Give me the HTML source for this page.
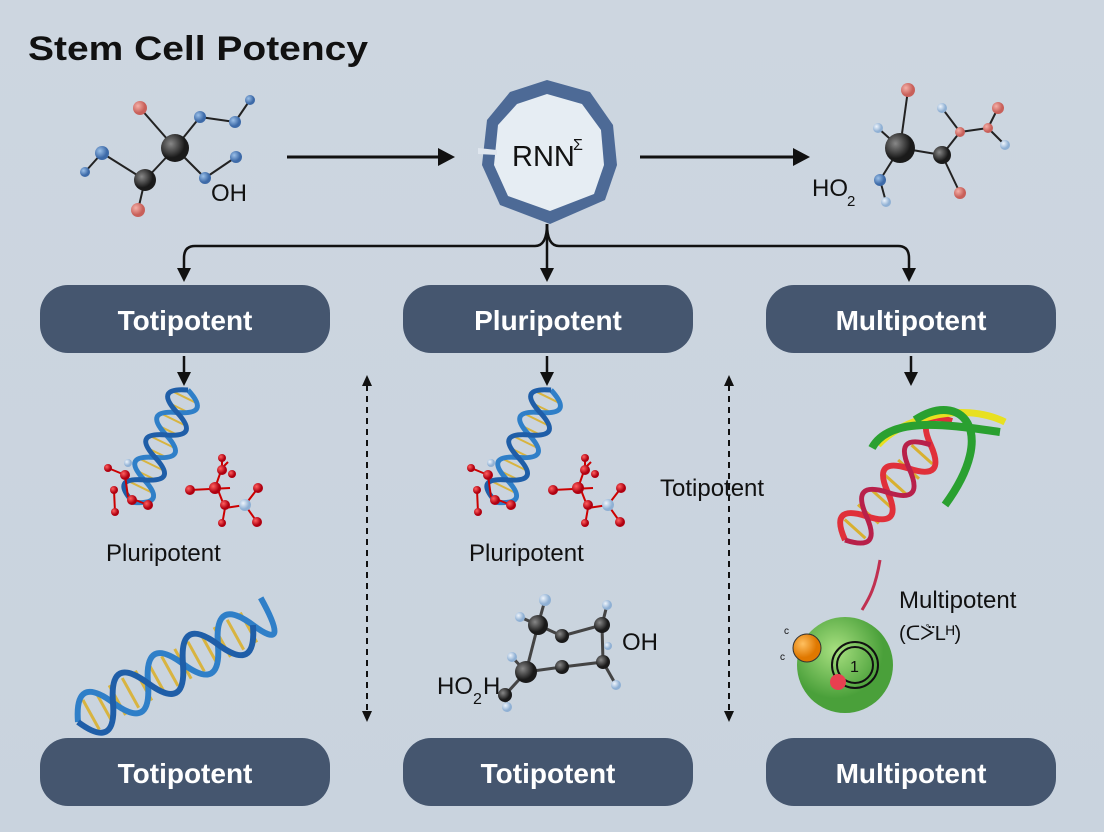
<!DOCTYPE html>
<html><head><meta charset="utf-8"><style>
html,body{margin:0;padding:0;width:1104px;height:832px;overflow:hidden}
body{background:linear-gradient(180deg,#cdd6e0 0%,#c9d3de 100%);font-family:"Liberation Sans",sans-serif}
svg{display:block}
</style></head><body>
<svg width="1104" height="832" viewBox="0 0 1104 832" xmlns="http://www.w3.org/2000/svg">
<defs>
<radialGradient id="dk" cx="35%" cy="35%"><stop offset="0" stop-color="#888"/><stop offset="1" stop-color="#1a1a1a"/></radialGradient>
<radialGradient id="bl" cx="35%" cy="35%"><stop offset="0" stop-color="#9bc0e8"/><stop offset="1" stop-color="#3d6aa8"/></radialGradient>
<radialGradient id="pk" cx="35%" cy="35%"><stop offset="0" stop-color="#f4b0a8"/><stop offset="1" stop-color="#c8605a"/></radialGradient>
<radialGradient id="lb" cx="35%" cy="35%"><stop offset="0" stop-color="#eef4fb"/><stop offset="1" stop-color="#8fb0d4"/></radialGradient>
<radialGradient id="rd" cx="35%" cy="35%"><stop offset="0" stop-color="#ff6060"/><stop offset="1" stop-color="#b00010"/></radialGradient>
<radialGradient id="gr" cx="40%" cy="35%"><stop offset="0" stop-color="#a8e080"/><stop offset="1" stop-color="#4aa03a"/></radialGradient>
<radialGradient id="or" cx="35%" cy="35%"><stop offset="0" stop-color="#ffc060"/><stop offset="1" stop-color="#e07800"/></radialGradient>
</defs>
<text x="28" y="60" font-size="34" font-weight="bold" fill="#111" font-family="Liberation Sans, sans-serif" textLength="340" lengthAdjust="spacingAndGlyphs">Stem Cell Potency</text>

<!-- left molecule -->
<g stroke="#222" stroke-width="2">
<line x1="175" y1="148" x2="140" y2="108"/><line x1="175" y1="148" x2="200" y2="117"/><line x1="175" y1="148" x2="145" y2="180"/>
<line x1="175" y1="148" x2="205" y2="178"/><line x1="145" y1="180" x2="102" y2="153"/><line x1="145" y1="180" x2="138" y2="210"/>
<line x1="102" y1="153" x2="85" y2="172"/><line x1="200" y1="117" x2="235" y2="122"/><line x1="235" y1="122" x2="250" y2="100"/>
<line x1="205" y1="178" x2="236" y2="157"/>
</g>
<circle cx="140" cy="108" r="7" fill="url(#pk)"/><circle cx="200" cy="117" r="6" fill="url(#bl)"/><circle cx="235" cy="122" r="6" fill="url(#bl)"/><circle cx="250" cy="100" r="5" fill="url(#bl)"/>
<circle cx="175" cy="148" r="14" fill="url(#dk)"/><circle cx="102" cy="153" r="7" fill="url(#bl)"/><circle cx="85" cy="172" r="5" fill="url(#bl)"/>
<circle cx="145" cy="180" r="11" fill="url(#dk)"/><circle cx="138" cy="210" r="7" fill="url(#pk)"/><circle cx="205" cy="178" r="6" fill="url(#bl)"/><circle cx="236" cy="157" r="6" fill="url(#bl)"/>
<text x="211" y="201" font-size="24" fill="#111">OH</text>

<line x1="287" y1="157" x2="440" y2="157" stroke="#111" stroke-width="3"/>
<path d="M438,148 L455,157 L438,166Z" fill="#111"/>
<line x1="640" y1="157" x2="795" y2="157" stroke="#111" stroke-width="3"/>
<path d="M793,148 L810,157 L793,166Z" fill="#111"/>

<!-- RNN ring -->
<path d="M547,80 L590,92 L613,125 L617,165 L605,200 L550,224 L500,205 L482,165 L487,120 L510,92 Z" fill="#4d6a96"/>
<path d="M547,94 L582,104 L601,130 L604,165 L594,194 L550,211 L508,196 L494,165 L498,125 L517,104 Z" fill="#e6edf3"/>
<path d="M478,148 L497,150 L497,155 L478,154Z" fill="#dfe6ee"/>
<text x="512" y="166" font-size="29" fill="#111">RNN</text><text x="573" y="150" font-size="16" fill="#111">&#x01A9;</text>

<!-- branches -->
<g fill="none" stroke="#111" stroke-width="2.5">
<path d="M547,224 Q547,246 535,246 L195,246 Q184,246 184,258 L184,270"/>
<path d="M547,224 Q547,246 559,246 L898,246 Q909,246 909,258 L909,270"/>
<line x1="547" y1="224" x2="547" y2="272"/>
</g>
<path d="M177,268 L191,268 L184,282Z M540,268 L554,268 L547,282Z M902,268 L916,268 L909,282Z" fill="#111"/>

<!-- right molecule -->
<g stroke="#222" stroke-width="2">
<line x1="900" y1="148" x2="908" y2="90"/><line x1="900" y1="148" x2="878" y2="128"/><line x1="900" y1="148" x2="880" y2="180"/>
<line x1="900" y1="148" x2="942" y2="155"/><line x1="942" y1="155" x2="960" y2="132"/><line x1="960" y1="132" x2="942" y2="108"/>
<line x1="960" y1="132" x2="988" y2="128"/><line x1="988" y1="128" x2="998" y2="108"/><line x1="988" y1="128" x2="1005" y2="145"/>
<line x1="942" y1="155" x2="960" y2="193"/><line x1="880" y1="180" x2="886" y2="202"/>
</g>
<circle cx="908" cy="90" r="7" fill="url(#pk)"/><circle cx="878" cy="128" r="5" fill="url(#lb)"/><circle cx="942" cy="108" r="5" fill="url(#lb)"/>
<circle cx="998" cy="108" r="6" fill="url(#pk)"/><circle cx="1005" cy="145" r="5" fill="url(#lb)"/><circle cx="960" cy="132" r="5" fill="url(#pk)"/><circle cx="988" cy="128" r="5" fill="url(#pk)"/>
<circle cx="900" cy="148" r="15" fill="url(#dk)"/><circle cx="942" cy="155" r="9" fill="url(#dk)"/><circle cx="880" cy="180" r="6" fill="url(#bl)"/><circle cx="886" cy="202" r="5" fill="url(#lb)"/><circle cx="960" cy="193" r="6" fill="url(#pk)"/>
<text x="812" y="196" font-size="24" fill="#111">HO</text><text x="847" y="206" font-size="15" fill="#111">2</text>

<!-- boxes -->
<g fill="#45566f">
<rect x="40" y="285" width="290" height="68" rx="28"/><rect x="403" y="285" width="290" height="68" rx="28"/><rect x="766" y="285" width="290" height="68" rx="28"/>
<rect x="40" y="738" width="290" height="68" rx="28"/><rect x="403" y="738" width="290" height="68" rx="28"/><rect x="766" y="738" width="290" height="68" rx="28"/>
</g>
<g fill="#fff" font-size="28" font-weight="bold" text-anchor="middle">
<text x="185" y="330">Totipotent</text><text x="548" y="330">Pluripotent</text><text x="911" y="330">Multipotent</text>
<text x="185" y="783">Totipotent</text><text x="548" y="783">Totipotent</text><text x="911" y="783">Multipotent</text>
</g>

<!-- down arrows -->
<g stroke="#111" stroke-width="2.5"><line x1="184" y1="356" x2="184" y2="374"/><line x1="547" y1="356" x2="547" y2="374"/><line x1="911" y1="356" x2="911" y2="374"/></g>
<path d="M177,372 L191,372 L184,386Z M540,372 L554,372 L547,386Z M904,372 L918,372 L911,386Z" fill="#111"/>

<!-- dashed -->
<g stroke="#111" stroke-width="2" stroke-dasharray="6,5"><line x1="367" y1="385" x2="367" y2="712"/><line x1="729" y1="385" x2="729" y2="712"/></g>
<path d="M362,386 L367,375 L372,386Z M362,711 L367,722 L372,711Z M724,386 L729,375 L734,386Z M724,711 L729,722 L734,711Z" fill="#111"/>

<!-- vertical helices -->
<g id="h1" transform="translate(188,390) rotate(116)">
<g stroke="#d8b440" stroke-width="2"><line x1="8" y1="-12" x2="8" y2="12"/><line x1="20" y1="-12" x2="20" y2="12"/><line x1="33" y1="-12" x2="33" y2="12"/><line x1="45" y1="-12" x2="45" y2="12"/><line x1="58" y1="-12" x2="58" y2="12"/><line x1="70" y1="-12" x2="70" y2="12"/><line x1="83" y1="-12" x2="83" y2="12"/><line x1="95" y1="-12" x2="95" y2="12"/><line x1="108" y1="-12" x2="108" y2="12"/></g>
<path d="M0,0 q12.5,-32 25,0 t25,0 t25,0 t25,0 t25,0" fill="none" stroke="#2f7fc8" stroke-width="5"/>
<path d="M0,0 q12.5,32 25,0 t25,0 t25,0 t25,0 t25,0" fill="none" stroke="#1f5ea8" stroke-width="5"/>
</g>
<g transform="translate(363,0)"><use href="#h1"/></g>

<!-- red molecules -->
<g id="rm">
<g stroke="#c00" stroke-width="2">
<line x1="108" y1="468" x2="125" y2="475"/><line x1="125" y1="475" x2="128" y2="497"/><line x1="114" y1="490" x2="115" y2="512"/><line x1="128" y1="497" x2="148" y2="505"/>
<line x1="190" y1="490" x2="230" y2="488"/><line x1="215" y1="488" x2="222" y2="468"/><line x1="222" y1="468" x2="228" y2="462"/><line x1="222" y1="468" x2="222" y2="458"/>
<line x1="218" y1="490" x2="225" y2="508"/><line x1="225" y1="508" x2="245" y2="505"/><line x1="245" y1="505" x2="258" y2="488"/><line x1="245" y1="505" x2="257" y2="522"/><line x1="225" y1="508" x2="222" y2="525"/>
</g>
<circle cx="108" cy="468" r="4" fill="url(#rd)"/><circle cx="125" cy="475" r="5" fill="url(#rd)"/><circle cx="128" cy="463" r="4" fill="url(#lb)"/><circle cx="114" cy="490" r="4" fill="url(#rd)"/><circle cx="115" cy="512" r="4" fill="url(#rd)"/>
<circle cx="132" cy="500" r="5" fill="url(#rd)"/><circle cx="148" cy="505" r="5" fill="url(#rd)"/>
<circle cx="190" cy="490" r="5" fill="url(#rd)"/><circle cx="215" cy="488" r="6" fill="url(#rd)"/><circle cx="222" cy="470" r="5" fill="url(#rd)"/><circle cx="222" cy="458" r="4" fill="url(#rd)"/><circle cx="232" cy="474" r="4" fill="url(#rd)"/>
<circle cx="225" cy="505" r="5" fill="url(#rd)"/><circle cx="245" cy="505" r="6" fill="url(#lb)"/><circle cx="258" cy="488" r="5" fill="url(#rd)"/><circle cx="257" cy="522" r="5" fill="url(#rd)"/><circle cx="222" cy="523" r="4" fill="url(#rd)"/>
</g>
<g transform="translate(363,0)"><use href="#rm"/></g>

<g font-size="24" fill="#111">
<text x="106" y="561">Pluripotent</text><text x="469" y="561">Pluripotent</text>
<text x="660" y="496">Totipotent</text>
<text x="899" y="608">Multipotent</text><text x="899" y="640" font-size="20">(ᑕᢴ̈Lᴴ)</text>
<text x="437" y="694">HO</text><text x="473" y="704" font-size="16">2</text><text x="483" y="694">H</text>
<text x="622" y="650">OH</text>
</g>

<!-- horizontal helix -->
<g transform="translate(78,722) rotate(-29)">
<g stroke="#d8b440" stroke-width="3"><line x1="15" y1="-17" x2="15" y2="17"/><line x1="30" y1="-17" x2="30" y2="17"/><line x1="45" y1="-17" x2="45" y2="17"/><line x1="60" y1="-17" x2="60" y2="17"/><line x1="75" y1="-17" x2="75" y2="17"/><line x1="90" y1="-17" x2="90" y2="17"/><line x1="105" y1="-17" x2="105" y2="17"/><line x1="120" y1="-17" x2="120" y2="17"/><line x1="135" y1="-17" x2="135" y2="17"/><line x1="150" y1="-17" x2="150" y2="17"/><line x1="165" y1="-17" x2="165" y2="17"/><line x1="180" y1="-17" x2="180" y2="17"/><line x1="195" y1="-17" x2="195" y2="17"/></g>
<path d="M0,0 q20,-44 40,0 t40,0 t40,0 t40,0 t40,0 t20,-20" fill="none" stroke="#2f7fc8" stroke-width="6"/>
<path d="M0,0 q20,44 40,0 t40,0 t40,0 t40,0 t40,0" fill="none" stroke="#1f5ea8" stroke-width="6"/>
</g>

<!-- hexagon molecule -->
<g stroke="#444" stroke-width="3" fill="none">
<path d="M538,625 L562,636 L602,625 L603,662 L562,667 L526,672 Z"/>
<line x1="526" y1="672" x2="505" y2="695"/><line x1="538" y1="625" x2="545" y2="600"/><line x1="538" y1="625" x2="520" y2="617"/>
<line x1="602" y1="625" x2="607" y2="605"/><line x1="603" y1="662" x2="616" y2="685"/><line x1="526" y1="672" x2="512" y2="657"/><line x1="505" y1="695" x2="507" y2="707"/>
</g>
<circle cx="545" cy="600" r="6" fill="url(#lb)"/><circle cx="520" cy="617" r="5" fill="url(#lb)"/><circle cx="607" cy="605" r="5" fill="url(#lb)"/><circle cx="616" cy="685" r="5" fill="url(#lb)"/><circle cx="512" cy="657" r="5" fill="url(#lb)"/><circle cx="507" cy="707" r="5" fill="url(#lb)"/><circle cx="608" cy="646" r="4" fill="url(#lb)"/>
<circle cx="538" cy="625" r="10" fill="url(#dk)"/><circle cx="562" cy="636" r="7" fill="url(#dk)"/><circle cx="602" cy="625" r="8" fill="url(#dk)"/><circle cx="562" cy="667" r="7" fill="url(#dk)"/><circle cx="603" cy="662" r="7" fill="url(#dk)"/><circle cx="526" cy="672" r="11" fill="url(#dk)"/><circle cx="505" cy="695" r="7" fill="url(#dk)"/>

<!-- right red/green helix -->
<g transform="translate(845,540) rotate(-48)">
<g stroke="#d8b030" stroke-width="3"><line x1="15" y1="-14" x2="15" y2="14"/><line x1="35" y1="-14" x2="35" y2="14"/><line x1="55" y1="-14" x2="55" y2="14"/><line x1="75" y1="-14" x2="75" y2="14"/><line x1="95" y1="-14" x2="95" y2="14"/><line x1="115" y1="-14" x2="115" y2="14"/></g>
<path d="M0,0 q16,-36 32,0 t32,0 t32,0 t32,0 t32,0" fill="none" stroke="#e0303a" stroke-width="6"/>
<path d="M0,0 q16,36 32,0 t32,0 t32,0 t32,0" fill="none" stroke="#b8204a" stroke-width="5"/>
</g>
<path d="M878,445 C900,420 960,400 1005,422" fill="none" stroke="#e8e020" stroke-width="7"/>
<path d="M872,448 C890,415 950,425 1000,432 M915,420 C960,390 1000,430 945,505" fill="none" stroke="#2aa030" stroke-width="8"/>
<path d="M880,560 C875,590 868,600 862,610" fill="none" stroke="#c03050" stroke-width="3"/>

<!-- green cell -->
<circle cx="845" cy="665" r="48" fill="url(#gr)"/>
<circle cx="855" cy="665" r="23" fill="none" stroke="#111" stroke-width="2"/><circle cx="855" cy="665" r="18" fill="none" stroke="#111" stroke-width="2"/>
<text x="850" y="672" font-size="16" fill="#111">1</text>
<circle cx="807" cy="648" r="14" fill="url(#or)" stroke="#333" stroke-width="1"/>
<circle cx="838" cy="682" r="8" fill="#e84050"/>
<text x="784" y="634" font-size="10" fill="#111">c</text><text x="780" y="660" font-size="10" fill="#111">c</text>
</svg>
</body></html>
